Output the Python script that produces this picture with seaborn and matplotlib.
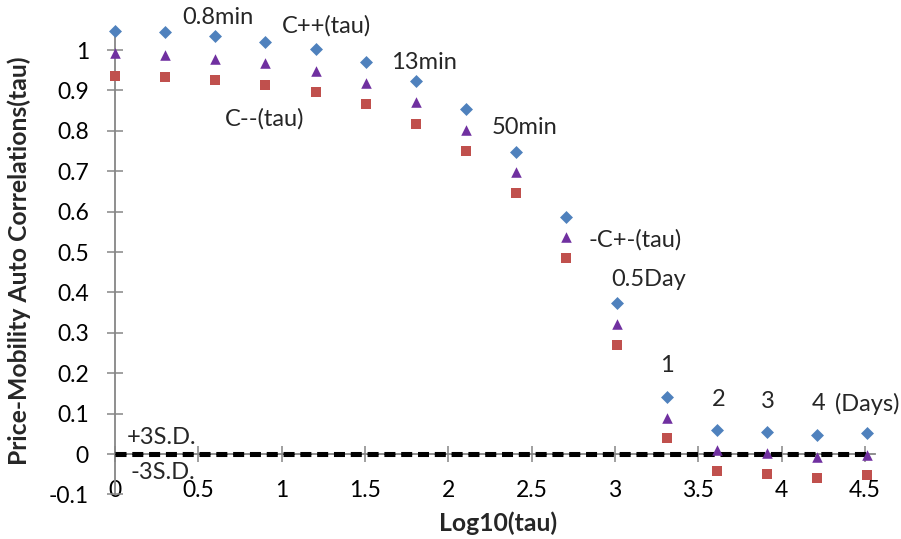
import matplotlib
matplotlib.use("Agg")
import matplotlib.pyplot as plt
import seaborn as sns
import pandas as pd

# ---- data ----
log_tau = [0.0, 0.301, 0.602, 0.903, 1.204, 1.505, 1.806, 2.107, 2.408,
           2.709, 3.010, 3.311, 3.612, 3.913, 4.214, 4.515]
c_pp = [1.048, 1.044, 1.035, 1.021, 1.002, 0.970, 0.923, 0.854, 0.748,
        0.587, 0.374, 0.142, 0.059, 0.054, 0.047, 0.051]          # C++(tau)
c_pm = [0.992, 0.988, 0.978, 0.967, 0.948, 0.918, 0.872, 0.802, 0.697,
        0.536, 0.322, 0.088, 0.010, 0.002, -0.007, -0.002]         # -C+-(tau)
c_mm = [0.936, 0.932, 0.926, 0.913, 0.895, 0.866, 0.818, 0.750, 0.645,
        0.484, 0.270, 0.039, -0.042, -0.050, -0.059, -0.052]       # C--(tau)
sd_x = [0.0, 4.515]
sd_plus = [0.0015, 0.0015]
sd_minus = [-0.0015, -0.0015]

x_ticks = [0, 0.5, 1, 1.5, 2, 2.5, 3, 3.5, 4, 4.5]
x_ticklabels = ["0", "0.5", "1", "1.5", "2", "2.5", "3", "3.5", "4", "4.5"]
y_ticks = [-0.1, 0, 0.1, 0.2, 0.3, 0.4, 0.5, 0.6, 0.7, 0.8, 0.9, 1.0]
y_ticklabels = ["-0.1", "0", "0.1", "0.2", "0.3", "0.4", "0.5", "0.6",
                "0.7", "0.8", "0.9", "1"]

annotations = [
    ("0.8min", 0.62, 1.08), ("C++(tau)", 1.27, 1.06), ("13min", 1.855, 0.970),
    ("C--(tau)", 0.90, 0.829), ("50min", 2.455, 0.809),
    ("-C+-(tau)", 3.12, 0.530), ("0.5Day", 3.20, 0.431),
    ("1", 3.313, 0.220), ("2", 3.62, 0.136), ("3", 3.92, 0.131),
    ("4", 4.22, 0.124), ("(Days)", 4.515, 0.124),
    ("+3S.D.", 0.28, 0.040), ("-3S.D.", 0.29, -0.045),
]

df = pd.DataFrame({"log_tau": log_tau, "cpp": c_pp, "cpm": c_pm, "cmm": c_mm})

sns.set_theme(style="white")
plt.rcParams["font.family"] = ["Lato", "DejaVu Sans"]

fig = plt.figure(figsize=(9.01, 5.39), dpi=100)
ax = fig.add_axes([0.1276, 0.0827, 0.8435, 0.862])

grey = "#868686"

ax.plot(sd_x, sd_plus, color="black", lw=2.2, linestyle=(0, (3.6, 1.9)),
        zorder=3, solid_capstyle="butt", dash_capstyle="butt")
ax.plot(sd_x, sd_minus, color="black", lw=2.2, linestyle=(0, (3.6, 1.9)),
        zorder=3, solid_capstyle="butt", dash_capstyle="butt")

sns.scatterplot(data=df, x="log_tau", y="cmm", marker="s", color="#C0504D",
                s=7.2 ** 2, linewidth=0, ax=ax, zorder=4, clip_on=False)
sns.scatterplot(data=df, x="log_tau", y="cpm", marker="^", color="#7030A0",
                s=7.6 ** 2, linewidth=0, ax=ax, zorder=4, clip_on=False)
sns.scatterplot(data=df, x="log_tau", y="cpp", marker="D", color="#4F81BD",
                s=6.6 ** 2, linewidth=0, ax=ax, zorder=5, clip_on=False)

ax.set_xlim(0, 4.56)
ax.set_ylim(-0.1, 1.05)
ax.set_xticks(x_ticks)
ax.set_xticklabels(x_ticklabels)
ax.set_yticks(y_ticks)
ax.set_yticklabels(y_ticklabels)

for s in ["top", "right"]:
    ax.spines[s].set_visible(False)
ax.spines["bottom"].set_position(("data", 0))
for s in ["left", "bottom"]:
    ax.spines[s].set_color(grey)
    ax.spines[s].set_linewidth(1.3)

ax.tick_params(axis="x", direction="inout", length=11.5, width=1.1,
               color=grey, labelsize=16.5, pad=13, labelcolor="black",
               bottom=True)
ax.tick_params(axis="y", direction="inout", length=11.5, width=1.1,
               color=grey, labelsize=16.5, pad=13, labelcolor="black",
               left=True)

ax.set_xlabel("")
ax.set_ylabel("")
fig.text(498 / 901, 1 - 523 / 539, "Log10(tau)", ha="center", va="center",
         fontsize=17.8, fontweight="bold")
fig.text(19 / 901, 1 - 261 / 539, "Price-Mobility Auto Correlations(tau)",
         ha="center", va="center", rotation=90, fontsize=17.8,
         fontweight="bold")

for txt, x, y in annotations:
    ax.text(x, y, txt, ha="center", va="center", fontsize=17, clip_on=False)

fig.savefig("out.png", dpi=100)
